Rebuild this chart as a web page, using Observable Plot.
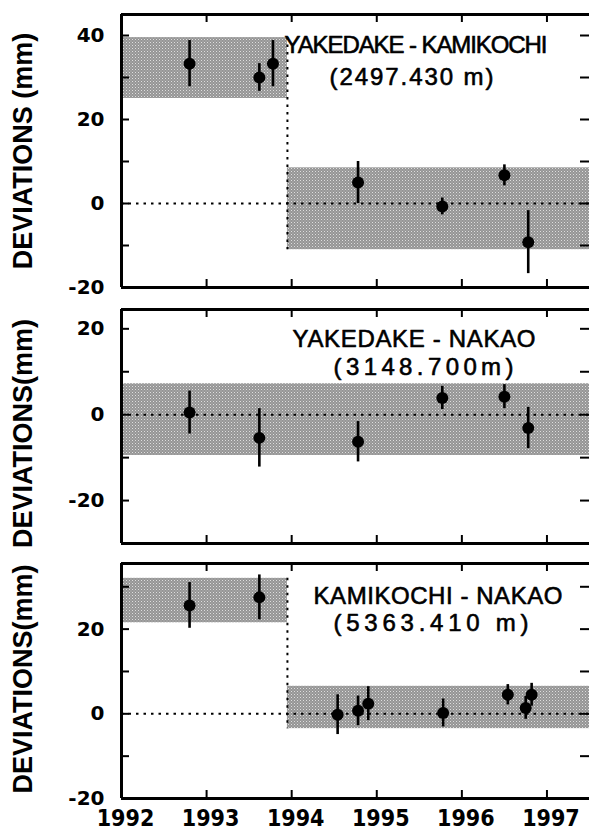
<!DOCTYPE html>
<html><head><meta charset="utf-8">
<script src="https://cdn.jsdelivr.net/npm/d3@7"></script>
<script src="https://cdn.jsdelivr.net/npm/@observablehq/plot@0.6"></script>
<style>
body{margin:0;background:#fff;}
#wrap{position:relative;width:589px;height:831px;overflow:hidden;background:#fff;}
#wrap svg{position:absolute;left:0;overflow:visible;}
</style></head><body><div id="wrap"></div>
<script>
// ---------- data ----------
const years = [1992, 1993, 1994, 1995, 1996, 1997];
const xDomain = [1992, 1997.5];
const stepTime = [1993.95];

// Panel 1: YAKEDAKE - KAMIKOCHI
const ykTitle = "YAKEDAKE - KAMIKOCHI";
const ykDistance = "(2497.430 m)";
const ykTime = [1992.8, 1993.62, 1993.78, 1994.78, 1995.77, 1996.5, 1996.78];
const ykDev  = [33.3, 30.0, 33.3, 5.0, -0.7, 6.7, -9.2];
const ykErr  = [5.5, 3.3, 5.5, 5.0, 2.0, 2.5, 7.5];
const ykBandStart = [1992, 1993.95];
const ykBandEnd   = [1993.95, 1997.5];
const ykBandLow   = [25, -11];
const ykBandHigh  = [39.5, 8.5];

// Panel 2: YAKEDAKE - NAKAO
const ynTitle = "YAKEDAKE - NAKAO";
const ynDistance = "(3148.700m)";
const ynTime = [1992.8, 1993.62, 1994.78, 1995.77, 1996.5, 1996.78];
const ynDev  = [0.5, -5.4, -6.3, 3.9, 4.2, -3.1];
const ynErr  = [5.0, 6.8, 4.7, 2.7, 2.8, 4.8];
const ynBandStart = [1992];
const ynBandEnd   = [1997.5];
const ynBandLow   = [-9.5];
const ynBandHigh  = [7.2];

// Panel 3: KAMIKOCHI - NAKAO
const knTitle = "KAMIKOCHI - NAKAO";
const knDistance = "(5363.410 m)";
const knTime = [1992.8, 1993.62, 1994.54, 1994.78, 1994.9, 1995.78, 1996.54, 1996.75, 1996.82];
const knDev  = [25.6, 27.5, -0.2, 0.7, 2.4, 0.2, 4.5, 1.4, 4.5];
const knErr  = [5.4, 5.3, 4.7, 3.5, 4.0, 3.3, 2.4, 2.7, 2.7];
const knBandStart = [1992, 1993.95];
const knBandEnd   = [1993.95, 1997.5];
const knBandLow   = [21.5, -3.5];
const knBandHigh  = [32, 6.5];

const yLabelText = ["DEVIATIONS (mm)", "DEVIATIONS(mm)", "DEVIATIONS(mm)"];

// ---------- layout ----------
const W = 589, ML = 121, MR = 0;
const panels = [
  {id: "p1", top: 0, height: 300, mt: 14, mb: 13, yDomain: [-20, 45],
   yTicks: [-20, -10, 0, 10, 20, 30, 40], yLabels: [-20, 0, 20, 40],
   time: ykTime, dev: ykDev, err: ykErr,
   bandStart: ykBandStart, bandEnd: ykBandEnd, bandLow: ykBandLow, bandHigh: ykBandHigh, step: true,
   title: ykTitle, dist: ykDistance, label: yLabelText[0], labelDy: 0,
   t1: {dx: 60.5, dy: 30.5, len: 263}, t2: {dx: 56, dy: 63, len: 164}, xAxis: false},
  {id: "p2", top: 296, height: 260, mt: 13, mb: 13, yDomain: [-30, 24.5],
   yTicks: [-20, -10, 0, 10, 20], yLabels: [-20, 0, 20],
   time: ynTime, dev: ynDev, err: ynErr,
   bandStart: ynBandStart, bandEnd: ynBandEnd, bandLow: ynBandLow, bandHigh: ynBandHigh, step: false,
   title: ynTitle, dist: ynDistance, label: yLabelText[1], labelDy: 7,
   t1: {dx: 58.5, dy: 30, len: 243}, t2: {dx: 68, dy: 58, len: 180}, xAxis: false},
  {id: "p3", top: 550, height: 281, mt: 13, mb: 33, yDomain: [-20, 35.5],
   yTicks: [-20, -10, 0, 10, 20, 30], yLabels: [-20, 0, 20],
   time: knTime, dev: knDev, err: knErr,
   bandStart: knBandStart, bandEnd: knBandEnd, bandLow: knBandLow, bandHigh: knBandHigh, step: true,
   title: knTitle, dist: knDistance, label: yLabelText[2], labelDy: -2,
   t1: {dx: 82.5, dy: 33, len: 249}, t2: {dx: 75.5, dy: 60, len: 195}, xAxis: true}
];

const wrap = document.getElementById("wrap");
const titleFont = {fontFamily: "Liberation Sans, Arial, sans-serif", fontSize: 24, fontWeight: "normal",
  stroke: "#000", strokeWidth: 0.6, textAnchor: "middle", lineAnchor: "middle"};

for (const p of panels) {
  const innerW = W - ML - MR;
  const innerH = p.height - p.mt - p.mb;
  const pts = p.time.map((t, i) => ({t, dev: p.dev[i], err: p.err[i]}));
  const bands = p.bandStart.map((s, i) => ({x1: s, x2: p.bandEnd[i], y1: p.bandLow[i], y2: p.bandHigh[i]}));
  const patId = "stip-" + p.id;
  const marks = [
    Plot.rect(bands, {x1: "x1", x2: "x2", y1: "y1", y2: "y2", fill: `url(#${patId})`}),
    Plot.ruleY([0], {stroke: "#000", strokeWidth: 2, strokeDasharray: "2.5,5"}),
  ];
  if (p.step) {
    marks.push(Plot.ruleX(stepTime, {x: d => d, y1: d3.max(p.bandHigh), y2: d3.min(p.bandLow),
      stroke: "#000", strokeWidth: 2, strokeDasharray: "2.5,5"}));
  }
  marks.push(
    Plot.ruleX(pts, {x: "t", y1: d => d.dev - d.err, y2: d => d.dev + d.err, stroke: "#000", strokeWidth: 2.6}),
    Plot.dot(pts, {x: "t", y: "dev", r: 6, fill: "#000", stroke: "none"}),
    // inward ticks
    Plot.tickY(p.yTicks, {y: d => d, insetRight: innerW - 8, stroke: "#000", strokeWidth: 2}),
    Plot.tickY(p.yTicks, {y: d => d, insetLeft: innerW - 9, stroke: "#000", strokeWidth: 2}),
    Plot.tickX(years.slice(1), {x: d => d, insetBottom: innerH - 8, stroke: "#000", strokeWidth: 2}),
    Plot.tickX(years.slice(1), {x: d => d, insetTop: innerH - 8, stroke: "#000", strokeWidth: 2}),
    // frame (left, top, bottom)
    Plot.ruleX([xDomain[0]], {x: d => d, stroke: "#000", strokeWidth: 3}),
    Plot.ruleY(p.yDomain, {y: d => d, stroke: "#000", strokeWidth: 3}),
    // y tick labels
    Plot.axisY(p.yLabels, {anchor: "left", tickSize: 0, tickPadding: 17, label: null,
      tickFormat: d => String(d), fontSize: 20, fontWeight: "bold",
      fontFamily: "DejaVu Sans, sans-serif", fill: "#000"}),
    // y label
    Plot.text([p.label], {text: d => d, frameAnchor: "left", textAnchor: "middle", lineAnchor: "middle",
      rotate: -90, dx: -98, dy: p.labelDy,
      fontSize: 27, fontWeight: "bold", fontFamily: "Liberation Sans, Arial, sans-serif", fill: "#000"}),
    // titles
    Plot.text([p.title], {text: d => d, frameAnchor: "top", dx: p.t1.dx, dy: p.t1.dy, fill: "#000", ...titleFont}),
    Plot.text([p.dist], {text: d => d, frameAnchor: "top", dx: p.t2.dx, dy: p.t2.dy, fill: "#000", ...titleFont})
  );
  if (p.xAxis) {
    marks.push(Plot.axisX(years, {anchor: "bottom", tickSize: 0, tickPadding: 11, label: null, dx: 4,
      tickFormat: d => String(d), fontSize: 23, fontWeight: "bold",
      fontFamily: "Liberation Sans Narrow, DejaVu Sans Condensed, sans-serif", fill: "#000"}));
  }
  const svg = Plot.plot({
    width: W, height: p.height,
    marginLeft: ML, marginRight: MR, marginTop: p.mt, marginBottom: p.mb,
    style: {background: "transparent", overflow: "visible"},
    x: {domain: xDomain, axis: p.xAxis ? undefined : null},
    y: {domain: p.yDomain},
    marks
  });
  // halftone pattern for the shaded bands
  const ns = "http://www.w3.org/2000/svg";
  const defs = document.createElementNS(ns, "defs");
  defs.innerHTML = `<pattern id="${patId}" width="3" height="3" patternUnits="userSpaceOnUse">
    <rect width="3" height="3" fill="#959595"/><rect width="1" height="1" fill="#dedede"/>
    <rect x="1.5" y="1.5" width="1" height="1" fill="#c2c2c2"/></pattern>`;
  svg.insertBefore(defs, svg.firstChild);
  // fit titles to the measured widths
  const lens = {[p.title]: p.t1.len, [p.dist]: p.t2.len};
  svg.querySelectorAll("text").forEach(t => {
    const key = t.textContent;
    if (lens[key] !== undefined && t.closest('g[aria-label="text"]')) {
      t.setAttribute("textLength", lens[key]);
      t.setAttribute("lengthAdjust", "spacing");
    }
  });
  svg.style.top = p.top + "px";
  wrap.appendChild(svg);
}
</script></body></html>
